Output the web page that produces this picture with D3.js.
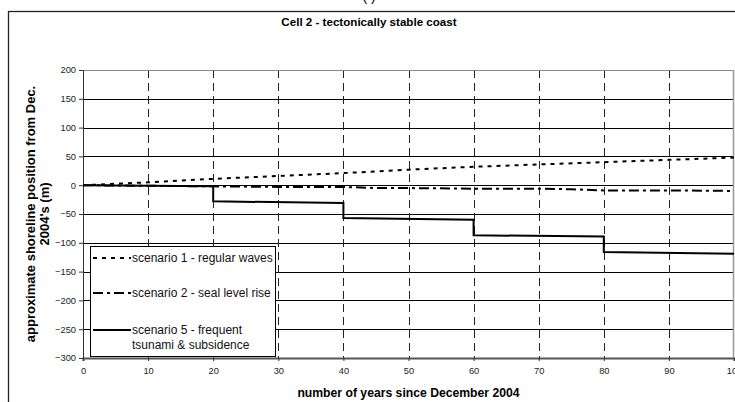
<!DOCTYPE html>
<html>
<head>
<meta charset="utf-8">
<script src="https://cdn.jsdelivr.net/npm/d3@7"></script>
<style>
  body { margin: 0; background: #fff; }
  svg { display: block; font-family: "Liberation Sans", Arial, sans-serif; }
</style>
</head>
<body>
<div class="chart"></div>
<script>
// Cell 2 - shoreline position scenarios

var years1 = [0, 10, 20, 30, 40, 50, 60, 70, 80, 90, 100];
var scenario1 = [0, 5, 11, 16, 21, 27, 32, 36, 40, 44, 48];

var years2 = [0, 10, 20, 30, 40, 45, 50, 60, 70, 75, 80, 90, 100];
var scenario2 = [0, -1, -2, -3, -3, -5, -5, -6, -6, -7, -9, -9, -10];

var years5 = [0, 20, 20, 40, 40, 60, 60, 80, 80, 100];
var scenario5 = [0, -2, -28, -31, -57, -60, -87, -89, -116, -119];

var xTicks = [0, 10, 20, 30, 40, 50, 60, 70, 80, 90, 100];
var yTicks = [200, 150, 100, 50, 0, -50, -100, -150, -200, -250, -300];

var legendLabels = [
  ["scenario 1 - regular waves"],
  ["scenario 2 - seal level rise"],
  ["scenario 5 - frequent", "tsunami & subsidence"]
];

var svgWidth = 735;
var svgHeight = 402;

var margin = { top: 70, right: 1, bottom: 44, left: 83 };
var width = svgWidth - margin.left - margin.right;
var height = svgHeight - margin.top - margin.bottom;

var svg = d3.select(".chart")
  .append("svg")
  .attr("width", svgWidth)
  .attr("height", svgHeight);

// outer frame
svg.append("rect")
  .attr("x", 8.5).attr("y", 11.5)
  .attr("width", 740).attr("height", 400)
  .attr("fill", "none")
  .attr("stroke", "#222")
  .attr("stroke-width", 1.3);

svg.append("text")
  .attr("x", 369).attr("y", 1)
  .attr("text-anchor", "middle")
  .attr("font-size", 14)
  .text("( )");

svg.append("text")
  .attr("x", 369).attr("y", 26)
  .attr("text-anchor", "middle")
  .attr("font-size", 11.6)
  .attr("font-weight", "bold")
  .text("Cell 2 - tectonically stable coast");

var chartGroup = svg.append("g")
  .attr("transform", `translate(${margin.left}, ${margin.top})`);

var xScale = d3.scaleLinear().domain([0, 100]).range([0, width]);
var yScale = d3.scaleLinear().domain([-300, 200]).range([height, 0]);

// horizontal gridlines
chartGroup.selectAll(".hgrid")
  .data(yTicks.filter(d => d > -300 && d < 200))
  .enter()
  .append("line")
  .attr("x1", 0).attr("x2", width)
  .attr("y1", d => Math.round(yScale(d)) + 0.5)
  .attr("y2", d => Math.round(yScale(d)) + 0.5)
  .attr("stroke", "#000")
  .attr("stroke-width", 1);

// vertical dashed gridlines
chartGroup.selectAll(".vgrid")
  .data(xTicks.filter(d => d > 0 && d < 100))
  .enter()
  .append("line")
  .attr("x1", d => Math.round(xScale(d)) + 0.5)
  .attr("x2", d => Math.round(xScale(d)) + 0.5)
  .attr("y1", 0).attr("y2", height)
  .attr("stroke", "#222")
  .attr("stroke-dasharray", "8,5");

// plot border top / right
chartGroup.append("line")
  .attr("x1", 0).attr("x2", width).attr("y1", 0.5).attr("y2", 0.5)
  .attr("stroke", "#888");
chartGroup.append("line")
  .attr("x1", width - 0.5).attr("x2", width - 0.5).attr("y1", 0).attr("y2", height)
  .attr("stroke", "#999").attr("stroke-width", 1.5);

// axes
var bottomAxis = d3.axisBottom(xScale).tickValues(xTicks).tickSize(3).tickPadding(6);
var leftAxis = d3.axisLeft(yScale).tickValues(yTicks).tickSize(4).tickPadding(3);

var xAxisG = chartGroup.append("g")
  .attr("transform", `translate(0, ${height})`)
  .call(bottomAxis);
xAxisG.select(".domain").attr("stroke", "#555").attr("stroke-width", 2);

var yAxisG = chartGroup.append("g").call(leftAxis);
yAxisG.select(".domain").attr("stroke", "#333");

chartGroup.selectAll(".tick text")
  .attr("font-family", "Liberation Sans, Arial, sans-serif")
  .attr("font-size", 9.3)
  .attr("fill", "#222");
chartGroup.selectAll(".tick line").attr("stroke", "#333");

// series
var lineGen = d3.line().x(d => xScale(d[0])).y(d => yScale(d[1]));

var series = [
  { years: years1, values: scenario1, dash: "4,5" },
  { years: years2, values: scenario2, dash: "10,4,3,4" },
  { years: years5, values: scenario5, dash: null }
];

series.forEach(function(s) {
  chartGroup.append("path")
    .datum(s.years.map((y, i) => [y, s.values[i]]))
    .attr("d", lineGen)
    .attr("fill", "none")
    .attr("stroke", "#000")
    .attr("stroke-width", 2)
    .attr("stroke-dasharray", s.dash);
});

// legend
var legend = svg.append("g").attr("transform", "translate(90, 246)");
legend.append("rect")
  .attr("x", 0.5).attr("y", 0.5)
  .attr("width", 185).attr("height", 110)
  .attr("fill", "#fff")
  .attr("stroke", "#000");

var legendY = [12, 47, 84];
legendLabels.forEach(function(lbl, i) {
  legend.append("line")
    .attr("x1", 3).attr("x2", 41)
    .attr("y1", legendY[i]).attr("y2", legendY[i])
    .attr("stroke", "#000")
    .attr("stroke-width", 2)
    .attr("stroke-dasharray", series[i].dash);
  lbl.forEach(function(t, j) {
    legend.append("text")
      .attr("x", 42)
      .attr("y", legendY[i] + 4 + j * 15)
      .attr("font-size", 12)
      .attr("fill", "#111")
      .text(t);
  });
});

// axis titles
svg.append("text")
  .attr("x", margin.left + width / 2)
  .attr("y", 397)
  .attr("text-anchor", "middle")
  .attr("font-size", 12.2)
  .attr("font-weight", "bold")
  .text("number of years since December 2004");

svg.append("text")
  .attr("transform", `translate(35, ${margin.top + height / 2}) rotate(-90)`)
  .attr("text-anchor", "middle")
  .attr("font-size", 13)
  .attr("font-weight", "bold")
  .text("approximate shoreline position from Dec.");

svg.append("text")
  .attr("transform", `translate(49, ${margin.top + height / 2}) rotate(-90)`)
  .attr("text-anchor", "middle")
  .attr("font-size", 13)
  .attr("font-weight", "bold")
  .text("2004's (m)");
</script>
</body>
</html>
